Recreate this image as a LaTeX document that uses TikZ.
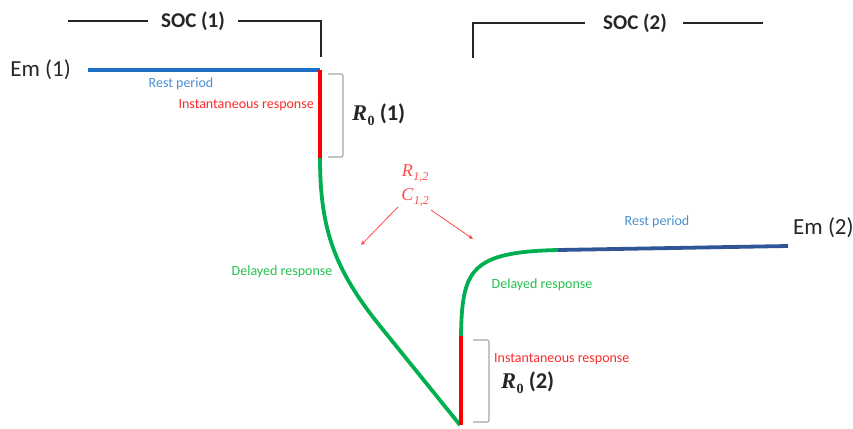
\documentclass[tikz,border=0pt]{standalone}
\usepackage{fontspec}
\setmainfont{Carlito}
\newfontfamily\mathlike{Liberation Serif}
\usetikzlibrary{arrows.meta}
\definecolor{lblue}{HTML}{1F6FC5}
\definecolor{dblue}{HTML}{2F5597}
\definecolor{lred}{HTML}{FF0000}
\definecolor{lgreen}{HTML}{00B050}
\definecolor{tblue}{HTML}{4A8FD0}
\definecolor{tred}{HTML}{FF2A2A}
\definecolor{tgreen}{HTML}{22C04E}
\definecolor{rcred}{HTML}{FF4A4A}
\newcommand{\Rsym}[1]{{\mathlike\bfseries\itshape R\kern0.5pt\raisebox{-0.22em}{\fontsize{14}{15}\selectfont\upshape #1}}}
\newcommand{\RCsym}[2]{{\mathlike\itshape #1\kern0.5pt\raisebox{-0.22em}{\fontsize{12}{13}\selectfont #2}}}
\tikzset{
  soc/.style={line width=2.6pt, black!85},
  curveline/.style={line width=3.8pt},
  bracketline/.style={line width=1.2pt, gray!70, rounded corners=2pt},
  biglbl/.style={font=\fontsize{23}{26}\selectfont, text=black!85, inner sep=0pt},
  soclbl/.style={font=\bfseries\fontsize{21}{24}\selectfont, text=black!85, inner sep=0pt},
  smalllbl/.style={font=\fontsize{14}{16}\selectfont, inner sep=0pt},
  rlbl/.style={font=\bfseries\fontsize{22.5}{26}\selectfont, text=black!85, inner sep=0pt},
  rclbl/.style={font=\fontsize{18}{21}\selectfont, text=rcred, inner sep=0pt},
  rcarrow/.style={line width=0.8pt, rcred, -{Triangle[length=4pt,width=3.5pt]}}
}
\begin{document}
\begin{tikzpicture}[x=1pt,y=-1pt]
\path[use as bounding box] (0,0) rectangle (853,428);

% SOC (1)
\node[soclbl] (soc1) at (193,21) {SOC (1)};
\coordinate (s1a) at (68,21);
\coordinate (s1b) at (148,21);
\coordinate (s1c) at (238,21);
\coordinate (s1d) at (321,21);
\coordinate (s1e) at (321,57);
\draw[soc] (s1a) -- (s1b);
\draw[soc] (s1c) -- (s1d) -- (s1e);

% SOC (2)
\node[soclbl] (soc2) at (635,23) {SOC (2)};
\coordinate (s2a) at (473,58);
\coordinate (s2b) at (473,23);
\coordinate (s2c) at (585,23);
\coordinate (s2d) at (683,23);
\coordinate (s2e) at (763,23);
\draw[soc] (s2a) -- (s2b) -- (s2c);
\draw[soc] (s2d) -- (s2e);

% first transient
\node[biglbl, anchor=east] (em1) at (71,70) {Em (1)};
\coordinate (b1s) at (88,70);
\coordinate (b1e) at (320,70);
\coordinate (r1e) at (320,158);
\coordinate (g1m) at (380,326);
\coordinate (g1e) at (460,425);
\draw[curveline, lblue] (b1s) -- (b1e);
\draw[curveline, lgreen] (r1e) .. controls (320,230) and (335,270) .. (g1m) -- (g1e);
\draw[curveline, lred] (b1e) -- (r1e);

\node[smalllbl, text=tblue] (rest1) at (181,84) {Rest period};
\node[smalllbl, text=tred, anchor=east] (inst1) at (314,105) {Instantaneous response};
\node[smalllbl, text=tgreen] (del1) at (282,272) {Delayed response};

\coordinate (k1a) at (328,74);
\coordinate (k1b) at (343,74);
\coordinate (k1c) at (343,157);
\coordinate (k1d) at (328,157);
\draw[bracketline] (k1a) -- (k1b) -- (k1c) -- (k1d);
\node[rlbl, anchor=west] (r01) at (352,115) {\Rsym{0} (1)};

% second transient
\coordinate (r2s) at (461,425);
\coordinate (r2e) at (461,336);
\coordinate (g2e) at (558,250);
\coordinate (b2e) at (788,246);
\draw[curveline, lgreen] (r2e) .. controls (462,270) and (470,252) .. (g2e);
\draw[curveline, dblue] (g2e) -- (b2e);
\draw[curveline, lred] (r2s) -- (r2e);

\node[biglbl, anchor=west] (em2) at (793,228) {Em (2)};
\node[smalllbl, text=tblue] (rest2) at (657,222) {Rest period};
\node[smalllbl, text=tgreen] (del2) at (542,285) {Delayed response};

\coordinate (k2a) at (473,340);
\coordinate (k2b) at (489,340);
\coordinate (k2c) at (489,422);
\coordinate (k2d) at (473,422);
\draw[bracketline] (k2a) -- (k2b) -- (k2c) -- (k2d);
\node[smalllbl, text=tred, anchor=west] (inst2) at (494,359) {Instantaneous response};
\node[rlbl, anchor=west] (r02) at (501,383) {\Rsym{0} (2)};

% R1,2 C1,2
\node[rclbl] (r12) at (415,174) {\RCsym{R}{1,2}};
\node[rclbl] (c12) at (415,197) {\RCsym{C}{1,2}};
\coordinate (a1s) at (398,207);
\coordinate (a1e) at (361,245);
\coordinate (a2s) at (431,210);
\coordinate (a2e) at (473,239);
\draw[rcarrow] (a1s) -- (a1e);
\draw[rcarrow] (a2s) -- (a2e);
\end{tikzpicture}
\end{document}
